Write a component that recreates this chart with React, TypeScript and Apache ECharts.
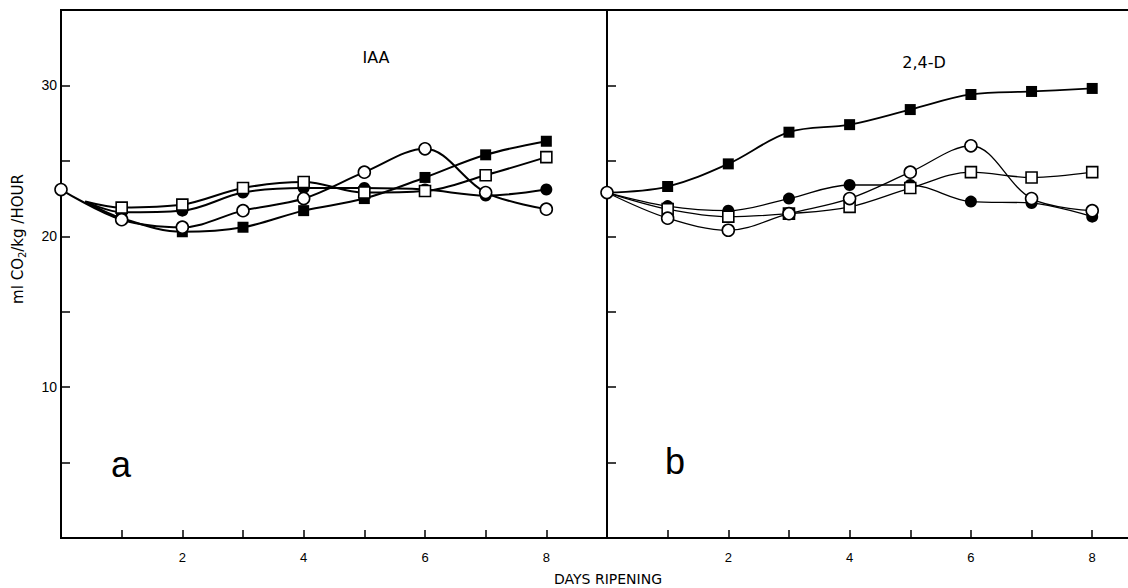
import React, { useEffect, useRef } from "react";
import * as echarts from "echarts";

// ---- data (ml CO2 / kg / hour) ----
const DAYS = [0, 1, 2, 3, 4, 5, 6, 7, 8];
const IAA_LINE_START = 0.4; // IAA curves (except open circles) start without marker here
const X_TICK_LABELS = [2, 4, 6, 8];
const Y_TICK_LABELS = [10, 20, 30];
const LEFT_X_MAX = 9;
const RIGHT_X_MAX = 8.59; // panel b is cut off by the page edge

// panel a : IAA
const iaaOpenCircle = [23.1, 21.1, 20.6, 21.7, 22.5, 24.25, 25.8, 22.9, 21.8];
const iaaFilledCircle = [22.3, 21.6, 21.7, 22.9, 23.2, 23.2, 23.1, 22.7, 23.1];
const iaaOpenSquare = [22.3, 21.9, 22.1, 23.2, 23.6, 22.9, 23.0, 24.05, 25.25];
const iaaFilledSquare = [22.3, 21.2, 20.3, 20.6, 21.7, 22.5, 23.9, 25.4, 26.3];

// panel b : 2,4-D
const d24OpenCircle = [22.9, 21.2, 20.4, 21.5, 22.5, 24.25, 26.0, 22.5, 21.7];
const d24FilledCircle = [22.9, 22.0, 21.7, 22.5, 23.4, 23.4, 22.3, 22.2, 21.3];
const d24OpenSquare = [22.9, 21.8, 21.3, 21.5, 21.95, 23.2, 24.25, 23.9, 24.25];
const d24FilledSquare = [22.9, 23.3, 24.8, 26.9, 27.4, 28.4, 29.4, 29.6, 29.8];

const NUM_FONT = "'Liberation Sans', Arial, sans-serif";
const TXT_FONT = "'DejaVu Sans', 'Liberation Sans', sans-serif";

type Kind = "openCircle" | "filledCircle" | "openSquare" | "filledSquare";

function makeSeries(
  values: number[],
  kind: Kind,
  axisIndex: number,
  firstX: number,
  firstHidden: boolean,
  lineWidth: number
) {
  const open = kind === "openCircle" || kind === "openSquare";
  const symbol = kind === "openCircle" || kind === "filledCircle" ? "circle" : "rect";
  const data = values.map((v, i) => {
    const x = i === 0 ? firstX : DAYS[i];
    if (i === 0 && firstHidden) return { value: [x, v], symbol: "none" };
    return { value: [x, v] };
  });
  return {
    type: "line",
    xAxisIndex: axisIndex,
    yAxisIndex: axisIndex,
    data,
    smooth: 0.35,
    symbol,
    symbolSize: symbol === "rect" ? 11 : 12,
    showAllSymbol: true,
    clip: false,
    lineStyle: { color: "#000", width: lineWidth },
    itemStyle: {
      color: open ? "#fff" : "#000",
      borderColor: "#000",
      borderWidth: open ? 1.6 : 0,
    },
    emphasis: { disabled: true },
    z: open ? 3 : 2,
  };
}

function xAxis(gridIndex: number, max: number, showLine: boolean) {
  return {
    type: "value",
    gridIndex,
    min: 0,
    max,
    interval: 1,
    axisLine: { show: showLine, onZero: false, lineStyle: { color: "#000", width: 2 } },
    splitLine: { show: false },
    axisTick: { show: true, inside: true, length: 8, lineStyle: { color: "#000", width: 1.5 } },
    axisLabel: {
      margin: 13,
      color: "#000",
      fontSize: 13,
      fontFamily: NUM_FONT,
      showMaxLabel: false,
      formatter: (v: number) => (X_TICK_LABELS.includes(v) ? String(v) : ""),
    },
  };
}

function yAxis(gridIndex: number, labels: boolean, showLine: boolean) {
  return {
    type: "value",
    gridIndex,
    min: 0,
    max: 35,
    interval: 5,
    axisLine: { show: showLine, onZero: false, lineStyle: { color: "#000", width: 2 } },
    splitLine: { show: false },
    axisTick: { show: true, inside: true, length: 9, lineStyle: { color: "#000", width: 1.5 } },
    axisLabel: {
      show: labels,
      margin: 4,
      color: "#000",
      fontSize: 14,
      fontFamily: NUM_FONT,
      formatter: (v: number) => (Y_TICK_LABELS.includes(v) ? String(v) : ""),
    },
  };
}

export default function App() {
  const ref = useRef<HTMLDivElement | null>(null);

  useEffect(() => {
    if (!ref.current) return;
    const chart = echarts.init(ref.current, null, { renderer: "svg" });

    chart.setOption({
      animation: false,
      backgroundColor: "#fff",
      grid: [
        {
          show: true,
          left: 61,
          top: 10,
          width: 546,
          height: 528,
          borderColor: "#000",
          borderWidth: 2,
          backgroundColor: "transparent",
        },
        { show: false, left: 607, top: 10, right: 0, height: 528 },
      ],
      xAxis: [
        xAxis(0, LEFT_X_MAX, false),
        xAxis(1, RIGHT_X_MAX, true),
        {
          type: "value",
          gridIndex: 1,
          position: "top",
          min: 0,
          max: RIGHT_X_MAX,
          axisLine: { show: true, onZero: false, lineStyle: { color: "#000", width: 2 } },
          axisTick: { show: false },
          axisLabel: { show: false },
          splitLine: { show: false },
        },
      ],
      yAxis: [yAxis(0, true, false), yAxis(1, false, true)],
      series: [
        makeSeries(iaaFilledSquare, "filledSquare", 0, IAA_LINE_START, true, 2),
        makeSeries(iaaFilledCircle, "filledCircle", 0, IAA_LINE_START, true, 2),
        makeSeries(iaaOpenSquare, "openSquare", 0, IAA_LINE_START, true, 2),
        makeSeries(iaaOpenCircle, "openCircle", 0, DAYS[0], false, 2),
        makeSeries(d24FilledSquare, "filledSquare", 1, DAYS[0], true, 1.8),
        makeSeries(d24FilledCircle, "filledCircle", 1, DAYS[0], true, 1.3),
        makeSeries(d24OpenSquare, "openSquare", 1, DAYS[0], true, 1.3),
        makeSeries(d24OpenCircle, "openCircle", 1, DAYS[0], false, 1.3),
      ],
      graphic: [
        {
          type: "text",
          x: 376,
          y: 57,
          style: {
            text: "IAA",
            font: `16px ${TXT_FONT}`,
            fill: "#000",
            align: "center",
            verticalAlign: "middle",
          },
        },
        {
          type: "text",
          x: 924,
          y: 62,
          style: {
            text: "2,4-D",
            font: `16px ${TXT_FONT}`,
            fill: "#000",
            align: "center",
            verticalAlign: "middle",
          },
        },
        {
          type: "text",
          x: 121,
          y: 464,
          style: {
            text: "a",
            font: `36px ${NUM_FONT}`,
            fill: "#000",
            align: "center",
            verticalAlign: "middle",
          },
        },
        {
          type: "text",
          x: 675,
          y: 461,
          style: {
            text: "b",
            font: `36px ${NUM_FONT}`,
            fill: "#000",
            align: "center",
            verticalAlign: "middle",
          },
        },
        {
          type: "text",
          x: 608,
          y: 579,
          style: {
            text: "DAYS RIPENING",
            font: `14px ${TXT_FONT}`,
            fill: "#000",
            align: "center",
            verticalAlign: "middle",
          },
        },
        {
          type: "text",
          x: 18,
          y: 239,
          rotation: Math.PI / 2,
          style: {
            text: "{n|ml CO}{s|2}{n|/kg /HOUR}",
            align: "center",
            verticalAlign: "middle",
            fill: "#000",
            rich: {
              n: { fontSize: 15, fontFamily: TXT_FONT, lineHeight: 19, verticalAlign: "middle", fill: "#000" },
              s: { fontSize: 10, fontFamily: TXT_FONT, lineHeight: 19, verticalAlign: "bottom", fill: "#000" },
            },
          },
        },
      ],
    });

    return () => {
      chart.dispose();
    };
  }, []);

  return (
    <div
      ref={ref}
      style={{ position: "fixed", left: 0, top: 0, width: 1128, height: 588, background: "#fff" }}
    />
  );
}
